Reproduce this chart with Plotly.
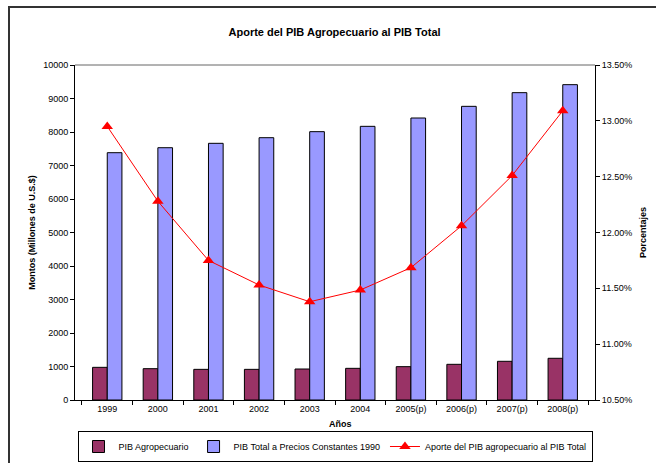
import plotly.graph_objects as go

years = ["1999", "2000", "2001", "2002", "2003", "2004", "2005(p)", "2006(p)", "2007(p)", "2008(p)"]
pib_agro = [975, 935, 915, 915, 925, 945, 995, 1065, 1155, 1245]
pib_total = [7382, 7531, 7662, 7830, 8010, 8169, 8418, 8766, 9174, 9413]
aporte_pct = [12.95, 12.28, 11.75, 11.53, 11.38, 11.485, 11.685, 12.06, 12.51, 13.09]

FONT = "Liberation Sans, Arial, sans-serif"

fig = go.Figure()
fig.add_trace(go.Bar(x=years, y=pib_agro, name="PIB Agropecuario",
                     marker=dict(color="#993366", line=dict(color="black", width=1))))
fig.add_trace(go.Bar(x=years, y=pib_total, name="PIB Total a Precios Constantes 1990",
                     marker=dict(color="#9999FF", line=dict(color="black", width=1))))
fig.add_trace(go.Scatter(x=years, y=aporte_pct, name="Aporte del PIB agropecuario al PIB Total",
                         yaxis="y2", mode="lines+markers",
                         line=dict(color="#FF0000", width=1),
                         marker=dict(symbol="triangle-up", size=10, color="#FF0000")))

fig.update_layout(
    width=656, height=463,
    margin=dict(l=75, r=61, t=65, b=63, autoexpand=False),
    paper_bgcolor="white", plot_bgcolor="white",
    font=dict(family=FONT, size=9, color="black"),
    title=dict(text="<b>Aporte del PIB Agropecuario al PIB Total</b>", x=0.51, xanchor="center",
               xref="container", yref="container",
               y=1 - 32 / 463, yanchor="middle", font=dict(size=11)),
    barmode="group", bargap=0.42, bargroupgap=0,
    showlegend=True,
    legend=dict(orientation="h", x=0.5, xanchor="center", xref="paper",
                yref="container", y=1 / 463, yanchor="bottom",
                bordercolor="black", borderwidth=1, font=dict(size=9),
                itemwidth=30, tracegroupgap=0, traceorder="normal"),
    xaxis=dict(type="category", showline=True, linecolor="black", linewidth=1,
               ticks="outside", ticklen=4, tickcolor="black", tickson="boundaries",
               automargin=False, showgrid=False),
    yaxis=dict(range=[0, 10000], dtick=1000, tickformat="d", showline=True, linecolor="black", linewidth=1,
               ticks="outside", ticklen=4, tickcolor="black", showgrid=False, zeroline=False,
               automargin=False,
               title=dict(text="<b>Montos (Millones de U.S.$)</b>", standoff=6, font=dict(size=9))),
    yaxis2=dict(range=[10.5, 13.5], dtick=0.5, tickformat=".2f", ticksuffix="%",
                overlaying="y", side="right", showline=True, linecolor="black", linewidth=1,
                ticks="outside", ticklen=4, tickcolor="black", showgrid=False, zeroline=False,
                automargin=False,
                title=dict(text="<b>Porcentajes</b>", standoff=8, font=dict(size=9))),
    annotations=[
        dict(text="<b>Años</b>", xref="paper", yref="paper", x=0.51, y=(400 - 424) / 335,
             xanchor="center", yanchor="middle", showarrow=False, font=dict(size=9)),
    ],
    shapes=[
        dict(type="line", xref="paper", yref="paper", x0=0, x1=1, y0=1, y1=1,
             line=dict(color="#666666", width=1)),
        dict(type="rect", xref="paper", yref="paper", x0=(9 - 75) / 520, x1=1.2,
             y0=-0.3, y1=(400 - 7) / 335, line=dict(color="#333333", width=2)),
    ],
)

fig.write_html("out.html", config={"displayModeBar": False},
               post_script="document.body.style.margin='0';document.body.style.padding='0';")
